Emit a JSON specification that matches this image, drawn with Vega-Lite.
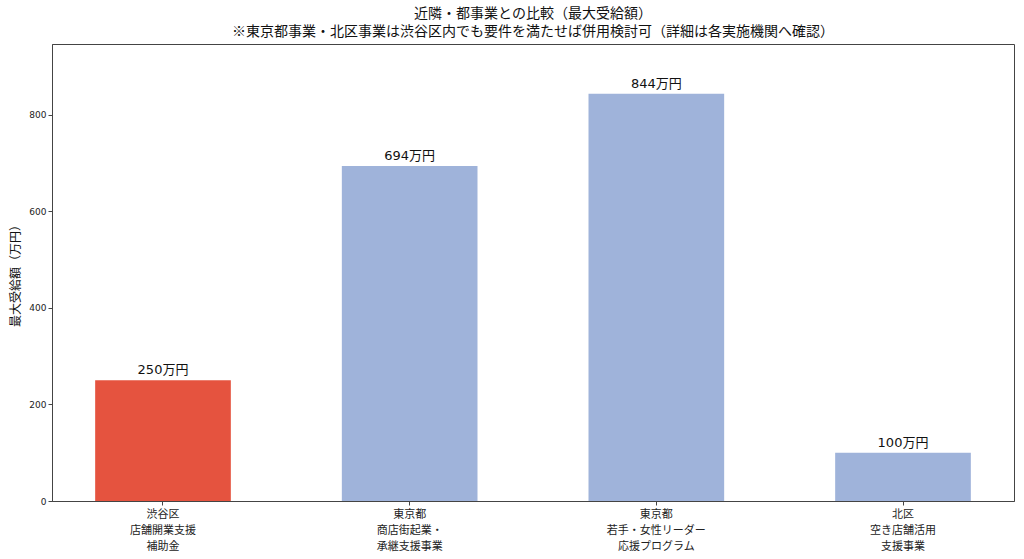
{
  "$schema": "https://vega.github.io/schema/vega-lite/v6.json",
  "width": 962,
  "height": 457,
  "autosize": "none",
  "padding": {"left": 52, "top": 44, "right": 10, "bottom": 58},
  "background": "white",
  "config": {
    "font": "Noto Sans CJK JP",
    "view": {"stroke": "#444", "strokeWidth": 1}
  },
  "title": {
    "text": ["近隣・都事業との比較（最大受給額）", "※東京都事業・北区事業は渋谷区内でも要件を満たせば併用検討可（詳細は各実施機関へ確認）"],
    "fontSize": 14,
    "fontWeight": "normal",
    "color": "#111",
    "anchor": "middle",
    "frame": "group",
    "offset": 5,
    "lineHeight": 18
  },
  "data": {
    "values": [
      {"program": "渋谷区\n店舗開業支援\n補助金", "amount": 250, "label": "250万円", "group": "渋谷区"},
      {"program": "東京都\n商店街起業・\n承継支援事業", "amount": 694, "label": "694万円", "group": "その他"},
      {"program": "東京都\n若手・女性リーダー\n応援プログラム", "amount": 844, "label": "844万円", "group": "その他"},
      {"program": "北区\n空き店舗活用\n支援事業", "amount": 100, "label": "100万円", "group": "その他"}
    ]
  },
  "encoding": {
    "x": {
      "field": "program",
      "type": "nominal",
      "sort": null,
      "scale": {"paddingInner": 0.45, "paddingOuter": 0.175},
      "axis": {
        "title": null,
        "labelAngle": 0,
        "labelExpr": "split(datum.label, '\\n')",
        "labelFontSize": 11,
        "labelLineHeight": 16,
        "labelColor": "#222",
        "tickColor": "#444",
        "tickSize": 4,
        "domainColor": "#444",
        "labelPadding": 3
      }
    },
    "y": {
      "field": "amount",
      "type": "quantitative",
      "scale": {"domain": [0, 947], "nice": false},
      "axis": {
        "title": "最大受給額（万円）",
        "titleFontSize": 12,
        "titleFontWeight": "normal",
        "titleColor": "#111",
        "titlePadding": 6,
        "values": [0, 200, 400, 600, 800],
        "grid": false,
        "labelFont": "DejaVu Sans",
        "labelFontSize": 9,
        "labelColor": "#222",
        "tickColor": "#444",
        "tickSize": 4,
        "domainColor": "#444"
      }
    }
  },
  "layer": [
    {
      "mark": {"type": "bar"},
      "encoding": {
        "color": {
          "field": "group",
          "type": "nominal",
          "scale": {"domain": ["渋谷区", "その他"], "range": ["#E5533F", "#9FB3DA"]},
          "legend": null
        }
      }
    },
    {
      "mark": {"type": "text", "baseline": "bottom", "dy": -3, "fontSize": 13, "font": "DejaVu Sans, Noto Sans CJK JP", "color": "#111"},
      "encoding": {
        "text": {"field": "label", "type": "nominal"}
      }
    }
  ]
}
